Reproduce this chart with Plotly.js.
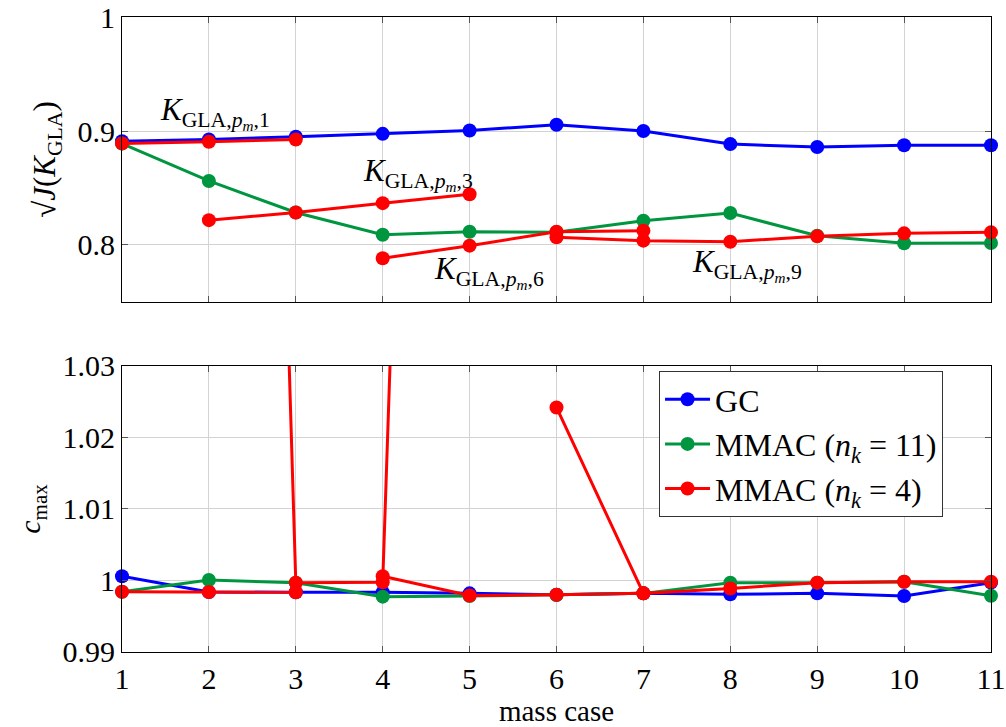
<!DOCTYPE html>
<html>
<head>
<meta charset="utf-8">
<script src="https://cdn.plot.ly/plotly-3.0.1.min.js"></script>
<style>html,body{margin:0;padding:0;background:#fff;}#chart{width:1006px;height:727px;}</style>
</head>
<body>
<div id="chart"></div>
<script>
// ---- data ----
const massCases = [1,2,3,4,5,6,7,8,9,10,11];
const tickLabels = ["1","2","3","4","5","6","7","8","9","10","11"];

// top panel: sqrt(J(K_GLA))
const gcJ   = [0.891, 0.8925, 0.895, 0.8975, 0.9005, 0.9055, 0.900, 0.8885, 0.886, 0.8875, 0.8875];
const mm11J = [0.889, 0.8562, 0.8285, 0.809, 0.8116, 0.8112, 0.8213, 0.828, 0.8081, 0.8015, 0.8017];
// MMAC (n_k = 4): separate controller segments
const seg1X = [1,2,3];        const seg1J = [0.8891, 0.8905, 0.8926];
const seg3X = [2,3,4,5];      const seg3J = [0.8218, 0.8285, 0.8367, 0.8445];
const seg6X = [4,5,6,7];      const seg6J = [0.7884, 0.7994, 0.8116, 0.8125];
const seg9X = [6,7,8,9,10,11];const seg9J = [0.8067, 0.8038, 0.8029, 0.8076, 0.8102, 0.8111];

// bottom panel: c_max
const gcC   = [1.0006, 0.9984, 0.99835, 0.99835, 0.9982, 0.9980, 0.9982, 0.99807, 0.9982, 0.99783, 0.9997];
const mm11C = [0.99843, 1.00007, 0.99969, 0.99774, 0.99783, 0.99797, 0.9982, 0.9997, 0.9997, 0.99983, 0.99787];
const seg1C = [0.99843, 0.99839, 0.99835];
const seg3C = [1.40, 0.99969, 0.99976, 1.36];
const seg6C = [1.0006, 0.9979, 0.9980, 0.9982];
const seg9C = [1.0242, 0.9982, 0.99889, 0.9997, 0.99983, 0.99983];

const labels = ["GC", "MMAC (<i>n<sub>k</sub></i> = 11)", "MMAC (<i>n<sub>k</sub></i> = 4)"];
const annoText = ["1","3","6","9"].map(k => "<i>K</i><sub>GLA,<i>p<sub>m</sub></i>," + k + "</sub>");

// ---- style ----
const BLUE = "#0000ff", GREEN = "#00963f", RED = "#ff0000";
const LW = 3, MS = 14;
const FONT = "Liberation Serif";

function tr(x, y, color, name, xa, ya, showleg, group) {
  return {x: x, y: y, type: "scatter", mode: "lines+markers", name: name,
    legendgroup: group, showlegend: showleg, cliponaxis: false,
    line: {color: color, width: LW}, marker: {color: color, size: MS},
    xaxis: xa, yaxis: ya};
}

const data = [
  tr(massCases, gcJ, BLUE, labels[0], "x", "y", false, "gc"),
  tr(massCases, mm11J, GREEN, labels[1], "x", "y", false, "m11"),
  tr(seg1X, seg1J, RED, labels[2], "x", "y", false, "m4"),
  tr(seg3X, seg3J, RED, labels[2], "x", "y", false, "m4"),
  tr(seg6X, seg6J, RED, labels[2], "x", "y", false, "m4"),
  tr(seg9X, seg9J, RED, labels[2], "x", "y", false, "m4"),
  tr(massCases, gcC, BLUE, labels[0], "x2", "y2", true, "gc"),
  tr(massCases, mm11C, GREEN, labels[1], "x2", "y2", true, "m11"),
  tr(seg1X, seg1C, RED, labels[2], "x2", "y2", true, "m4"),
  tr(seg3X, seg3C, RED, labels[2], "x2", "y2", false, "m4"),
  tr(seg6X, seg6C, RED, labels[2], "x2", "y2", false, "m4"),
  tr(seg9X, seg9C, RED, labels[2], "x2", "y2", false, "m4")
];

const axBase = {showline: true, linecolor: "#000", linewidth: 1, mirror: "ticks",
  ticks: "inside", ticklen: 6, tickcolor: "#555", tickwidth: 1,
  showgrid: true, gridcolor: "#d3d3d3", gridwidth: 1, zeroline: false,
  tickfont: {family: FONT, size: 30, color: "#000"}};

const layout = {
  width: 1006, height: 727,
  margin: {l: 122, r: 15, t: 17, b: 75},
  paper_bgcolor: "#fff", plot_bgcolor: "#fff",
  font: {family: FONT, size: 28, color: "#000"},
  showlegend: true,
  legend: {x: 0.618, y: 0.4425, xanchor: "left", yanchor: "top",
    bgcolor: "#fff", bordercolor: "#333", borderwidth: 1,
    font: {family: FONT, size: 32, color: "#000"}, tracegroupgap: 0, itemwidth: 45},
  xaxis: Object.assign({}, axBase, {range: [1, 11], tickvals: massCases, ticktext: tickLabels,
    showticklabels: false, anchor: "y"}),
  yaxis: Object.assign({}, axBase, {domain: [0.5512, 1], range: [0.75, 1],
    tickvals: [0.8, 0.9, 1], ticktext: ["0.8", "0.9", "1"], anchor: "x",
    title: {text: "√<i>J</i>(<i>K</i><sub>GLA</sub>)", font: {family: FONT, size: 31}, standoff: 12}}),
  xaxis2: Object.assign({}, axBase, {range: [1, 11], tickvals: massCases, ticktext: tickLabels,
    anchor: "y2", title: {text: "mass case", font: {family: FONT, size: 29}, standoff: 6}}),
  yaxis2: Object.assign({}, axBase, {domain: [0, 0.4504], range: [0.99, 1.03],
    tickvals: [0.99, 1.0, 1.01, 1.02, 1.03], ticktext: ["0.99", "1", "1.01", "1.02", "1.03"], anchor: "x2",
    title: {text: "<i>c</i><sub>max</sub>", font: {family: FONT, size: 30}, standoff: 12}}),
  annotations: [
    {x: 2.07, y: 0.916, text: annoText[0]},
    {x: 4.41, y: 0.862, text: annoText[1]},
    {x: 5.22, y: 0.7764, text: annoText[2]},
    {x: 8.19, y: 0.7825, text: annoText[3]}
  ].map(a => Object.assign(a, {xref: "x", yref: "y", showarrow: false,
    xanchor: "center", yanchor: "middle", font: {family: FONT, size: 31, color: "#000"}}))
};

Plotly.newPlot("chart", data, layout, {displayModeBar: false, staticPlot: true});
</script>
</body>
</html>
